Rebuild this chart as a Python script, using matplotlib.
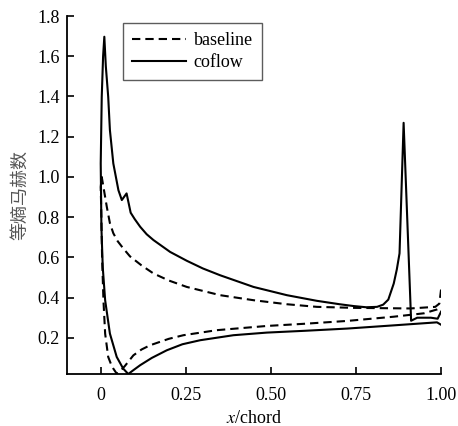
import matplotlib
matplotlib.use("Agg")
import matplotlib.pyplot as plt

# ---- data ----
base_upper_x = [1.0, 0.995, 0.983, 0.91, 0.743, 0.635, 0.547, 0.449, 0.351, 0.253, 0.2, 0.155, 0.12, 0.086, 0.066, 0.05, 0.037, 0.027, 0.018, 0.01, 0.003]
base_upper_y = [0.44, 0.37, 0.354, 0.346, 0.349, 0.354, 0.367, 0.387, 0.412, 0.453, 0.485, 0.52, 0.56, 0.605, 0.645, 0.68, 0.72, 0.77, 0.85, 0.93, 1.0]
base_lower_x = [0.0, 0.002, 0.004, 0.008, 0.013, 0.022, 0.03, 0.037, 0.047, 0.055, 0.071, 0.096, 0.12, 0.145, 0.2, 0.243, 0.341, 0.488, 0.6, 0.724, 0.861, 0.95, 0.988, 1.0]
base_lower_y = [0.95, 0.8, 0.6, 0.387, 0.221, 0.105, 0.07, 0.047, 0.022, 0.03, 0.06, 0.113, 0.142, 0.163, 0.195, 0.213, 0.238, 0.259, 0.27, 0.284, 0.305, 0.322, 0.341, 0.35]

cof_lower_x = [1.0, 0.988, 0.861, 0.724, 0.6, 0.488, 0.39, 0.292, 0.24, 0.194, 0.15, 0.116, 0.095, 0.081, 0.066, 0.047, 0.027, 0.013, 0.006, 0.002, 0.0]
cof_lower_y = [0.265, 0.277, 0.262, 0.246, 0.235, 0.226, 0.213, 0.188, 0.168, 0.138, 0.10, 0.064, 0.038, 0.02, 0.047, 0.105, 0.221, 0.387, 0.55, 0.75, 1.067]
cof_upper_x = [0.003, 0.007, 0.0106, 0.015, 0.022, 0.027, 0.037, 0.052, 0.062, 0.076, 0.088, 0.1, 0.116, 0.135, 0.155, 0.204, 0.253, 0.3, 0.351, 0.449, 0.547, 0.635, 0.702, 0.743, 0.78, 0.812, 0.83, 0.845, 0.861, 0.87, 0.878, 0.89, 0.912, 0.93, 0.97, 0.99, 1.0]
cof_upper_y = [1.398, 1.6, 1.697, 1.55, 1.398, 1.233, 1.067, 0.934, 0.885, 0.918, 0.822, 0.79, 0.752, 0.715, 0.686, 0.627, 0.583, 0.545, 0.511, 0.453, 0.412, 0.384, 0.367, 0.358, 0.352, 0.354, 0.365, 0.39, 0.47, 0.54, 0.62, 1.269, 0.285, 0.30, 0.30, 0.295, 0.33]

x_ticks = [0, 0.25, 0.50, 0.75, 1.00]
x_ticklabels = ["0", "0.25", "0.50", "0.75", "1.00"]
y_ticks = [0.2, 0.4, 0.6, 0.8, 1.0, 1.2, 1.4, 1.6, 1.8]
y_ticklabels = ["0.2", "0.4", "0.6", "0.8", "1.0", "1.2", "1.4", "1.6", "1.8"]

plt.rcParams['font.family'] = ['Liberation Serif', 'Noto Sans CJK SC']
plt.rcParams['mathtext.fontset'] = 'stix'

fig = plt.figure(figsize=(4.58, 4.26), dpi=100)
ax = fig.add_axes([0.1456, 0.122, 0.963 - 0.1456, 0.9624 - 0.122])

bx = base_upper_x + base_lower_x
by = base_upper_y + base_lower_y
cx = cof_lower_x + cof_upper_x
cy = cof_lower_y + cof_upper_y

ax.plot(bx, by, color='black', lw=1.5, ls=(0, (4.0, 2.4)), label='baseline')
ax.plot(cx, cy, color='black', lw=1.5, ls='-', label='coflow')

ax.set_xlim(-0.1, 1.0)
ax.set_ylim(0.02, 1.8)
ax.set_xticks(x_ticks)
ax.set_xticklabels(x_ticklabels)
ax.set_yticks(y_ticks)
ax.set_yticklabels(y_ticklabels)
ax.tick_params(direction='in', length=5, width=1.2, labelsize=13)
ax.tick_params(axis='x', pad=9.5)
ax.tick_params(axis='y', pad=5)
for s in ['top', 'right']:
    ax.spines[s].set_visible(False)
for s in ['left', 'bottom']:
    ax.spines[s].set_linewidth(1.3)

ax.set_xlabel('$x$/chord', fontsize=13, labelpad=4)
ax.set_ylabel('等熵马赫数', fontsize=13, color='#555555', family=['Noto Sans CJK SC'], labelpad=6)

leg = ax.legend(loc='upper left', bbox_to_anchor=(0.151, 0.981), fontsize=13, frameon=True,
                fancybox=False, edgecolor='#333333', handlelength=3.0, handletextpad=0.4,
                borderpad=0.5, labelspacing=0.3, borderaxespad=0)
leg.get_frame().set_linewidth(1.0)

fig.savefig('out.png', dpi=100)
